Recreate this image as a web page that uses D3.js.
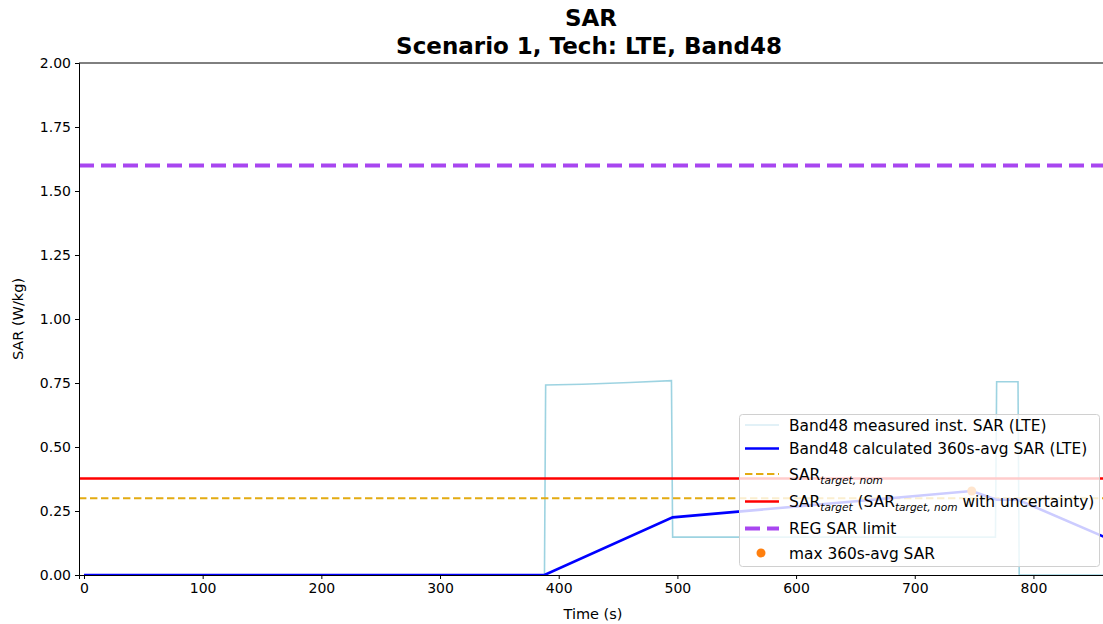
<!DOCTYPE html>
<html>
<head>
<meta charset="UTF-8">
<title>SAR</title>
<script src="https://d3js.org/d3.v7.min.js"></script>
<style>
  body { margin: 0; background: #fff; }
  text { font-family: "DejaVu Sans", sans-serif; fill: #000; }
</style>
</head>
<body>
<svg id="chart"></svg>
<script>
// data
var instTime = [0, 388, 389, 420, 460, 495, 496, 768, 769, 787, 788, 870];
var instSar  = [0, 0, 0.742, 0.745, 0.752, 0.759, 0.148, 0.148, 0.755, 0.755, 0, 0];

var avgTime = [0, 388, 496, 748, 769, 787, 870];
var avgSar  = [0, 0, 0.225, 0.328, 0.294, 0.294, 0.128];

var sarTargetNom = 0.30;
var sarTarget = 0.377;
var regLimit = 1.6;
var maxAvg = [748, 0.328];

var xTicks = [0, 100, 200, 300, 400, 500, 600, 700, 800];
var yTicks = [0, 0.25, 0.5, 0.75, 1.0, 1.25, 1.5, 1.75, 2.0];

var legendLabels = [
  "Band48 measured inst. SAR (LTE)",
  "Band48 calculated 360s-avg SAR (LTE)",
  "SAR_nom",
  "SAR_tgt",
  "REG SAR limit",
  "max 360s-avg SAR"
];

(function() {
  var width = 1103, height = 624;
  var left = 79, top = 63, right = 1105, bottom = 575;

  var svg = d3.select("#chart").attr("width", width).attr("height", height);

  var x = d3.scaleLinear().domain([-4.2, 860.3]).range([left, right]);
  var y = d3.scaleLinear().domain([0, 2]).range([bottom, top]);

  svg.append("defs").append("clipPath").attr("id", "clip")
    .append("rect").attr("x", left).attr("y", top)
    .attr("width", right - left).attr("height", bottom - top);

  var plot = svg.append("g").attr("clip-path", "url(#clip)");

  var line = d3.line().x(function(d) { return x(d[0]); }).y(function(d) { return y(d[1]); });

  // measured inst SAR
  plot.append("path")
    .attr("d", line(d3.zip(instTime, instSar)))
    .attr("fill", "none").attr("stroke", "#8ccbdc").attr("stroke-width", 1.6)
    .attr("opacity", 0.85);

  // horizontal reference lines
  function hline(v, color, w, dash) {
    plot.append("line")
      .attr("x1", left).attr("x2", right)
      .attr("y1", y(v)).attr("y2", y(v))
      .attr("stroke", color).attr("stroke-width", w)
      .attr("stroke-dasharray", dash || null);
  }
  hline(sarTargetNom, "#e3ab12", 2, "7.4,3.6");
  hline(sarTarget, "#ff0000", 2.5);
  hline(regLimit, "#a846f0", 4, "15,7");

  // avg SAR
  plot.append("path")
    .attr("d", line(d3.zip(avgTime, avgSar)))
    .attr("fill", "none").attr("stroke", "#0000ff").attr("stroke-width", 2.6);

  plot.append("circle")
    .attr("cx", x(maxAvg[0])).attr("cy", y(maxAvg[1])).attr("r", 4.5)
    .attr("fill", "#ff7f0e");

  // axes
  var xAxis = svg.append("g").attr("transform", "translate(0," + bottom + ")")
    .call(d3.axisBottom(x).tickValues(xTicks).tickSize(4).tickPadding(4).tickFormat(d3.format("d")));
  var yAxis = svg.append("g").attr("transform", "translate(" + left + ",0)")
    .call(d3.axisLeft(y).tickValues(yTicks).tickSize(4).tickPadding(4).tickFormat(d3.format(".2f")));
  [xAxis, yAxis].forEach(function(a) {
    a.select(".domain").attr("stroke", "#000").attr("stroke-width", 1);
    a.selectAll("text").style("font-size", "14px").style("font-family", "DejaVu Sans");
  });
  svg.append("line").attr("x1", left).attr("x2", right).attr("y1", top).attr("y2", top)
    .attr("stroke", "#000").attr("stroke-width", 1);

  // titles
  svg.append("text").attr("x", 591).attr("y", 26).attr("text-anchor", "middle")
    .style("font-size", "23px").style("font-weight", "bold").text("SAR");
  svg.append("text").attr("x", 589).attr("y", 54).attr("text-anchor", "middle")
    .style("font-size", "23px").style("font-weight", "bold").text("Scenario 1, Tech: LTE, Band48");
  svg.append("text").attr("x", 593).attr("y", 619).attr("text-anchor", "middle")
    .style("font-size", "14.5px").text("Time (s)");
  svg.append("text").attr("transform", "translate(23,319) rotate(-90)").attr("text-anchor", "middle")
    .style("font-size", "14.5px").text("SAR (W/kg)");

  // legend
  var lg = svg.append("g");
  lg.append("rect").attr("x", 739.5).attr("y", 414.5).attr("width", 360).attr("height", 152)
    .attr("rx", 3).attr("fill", "#fff").attr("fill-opacity", 0.8).attr("stroke", "#d0d0d0");

  var rowY = [425, 448.5, 474, 501.5, 528.5, 553];
  var sx1 = 745, sx2 = 779, tx = 789;
  var samples = [
    {c: "#d8ecf4", w: 1.6},
    {c: "#0000ff", w: 2.6},
    {c: "#e3ab12", w: 2, dash: "7.4,3.6"},
    {c: "#ff0000", w: 2.5},
    {c: "#a846f0", w: 4, dash: "15,7"}
  ];
  samples.forEach(function(s, i) {
    lg.append("line").attr("x1", sx1).attr("x2", sx2).attr("y1", rowY[i]).attr("y2", rowY[i])
      .attr("stroke", s.c).attr("stroke-width", s.w).attr("stroke-dasharray", s.dash || null);
  });
  lg.append("circle").attr("cx", 761).attr("cy", rowY[5]).attr("r", 4.5).attr("fill", "#ff7f0e");

  function label(i) {
    return lg.append("text").attr("x", tx).attr("y", rowY[i] + 5.5).style("font-size", "15.4px");
  }
  function sub(t, s) {
    t.append("tspan").attr("dy", 4).style("font-size", "10.6px").style("font-style", "italic").text(s);
  }
  label(0).text(legendLabels[0]);
  label(1).text(legendLabels[1]);
  var t3 = label(2);
  t3.append("tspan").text("SAR");
  sub(t3, "target, nom");
  var t4 = label(3);
  t4.append("tspan").text("SAR");
  sub(t4, "target");
  t4.append("tspan").attr("dy", -4).text(" (SAR");
  sub(t4, "target, nom");
  t4.append("tspan").attr("dy", -4).text(" with uncertainty)");
  label(4).text(legendLabels[4]);
  label(5).text(legendLabels[5]);
})();
</script>
</body>
</html>
